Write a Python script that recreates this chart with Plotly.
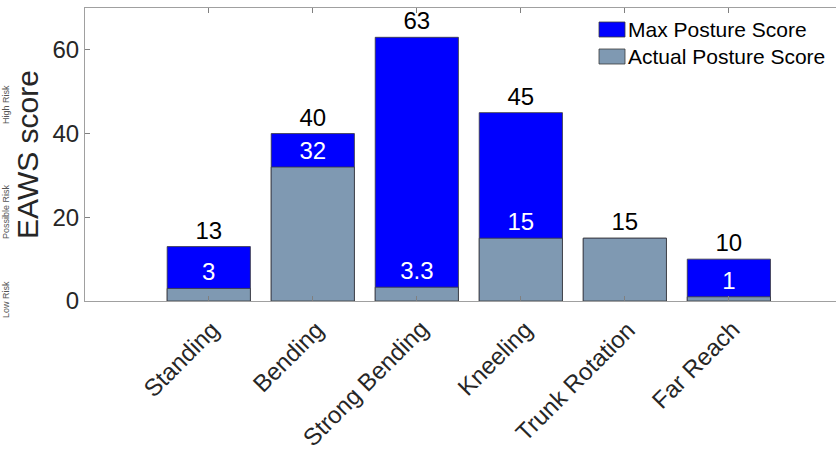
import plotly.graph_objects as go

# Posture categories and EAWS scores
categories = ["Standing", "Bending", "Strong Bending", "Kneeling", "Trunk Rotation", "Far Reach"]
max_scores = [13, 40, 63, 45, 15, 10]
actual_scores = [3, 32, 3.3, 15, 15, 1]
max_labels = ["13", "40", "63", "45", "15", "10"]
actual_labels = ["3", "32", "3.3", "15", "", "1"]
y_ticks = [0, 20, 40, 60]
risk_labels = ["High Risk", "Possible Risk", "Low Risk"]

FONT = "Liberation Sans, Arial, sans-serif"
BLUE = "#0000FF"
STEEL = "#7F99B2"
EDGE = "#3a3a3a"

positions = list(range(len(categories)))

fig = go.Figure()
fig.add_trace(go.Bar(
    x=positions, y=max_scores, width=0.8, name="Max Posture Score",
    marker=dict(color=BLUE, line=dict(color=EDGE, width=0.8)),
    text=max_labels, textposition="outside", textangle=0, cliponaxis=False,
    textfont=dict(family=FONT, size=24, color="black"),
    showlegend=False,
))
fig.add_trace(go.Bar(
    x=positions, y=actual_scores, width=0.8, name="Actual Posture Score",
    marker=dict(color=STEEL, line=dict(color=EDGE, width=0.8)),
    text=actual_labels, textposition="outside", textangle=0, cliponaxis=False,
    textfont=dict(family=FONT, size=24, color="white"),
    showlegend=False,
))

# plot area in pixels: x 85..836, y 8..301
L, R, T, B = 85, 836, 8, 301
W, H = R - L, B - T

def px(x):
    return (x - L) / W

def py(y):
    return (B - y) / H

shapes = []
annotations = []

# legend boxes and labels
legend_items = [("Max Posture Score", BLUE, 22, 37), ("Actual Posture Score", STEEL, 49, 64)]
for label, color, y0, y1 in legend_items:
    shapes.append(dict(type="rect", xref="paper", yref="paper",
                       x0=px(599), x1=px(625), y0=py(y1), y1=py(y0),
                       fillcolor=color, line=dict(color=EDGE, width=0.8)))
    annotations.append(dict(xref="paper", yref="paper", x=px(626), y=py((y0 + y1) / 2),
                            xanchor="left", yanchor="middle", showarrow=False,
                            text=label, font=dict(family=FONT, size=21, color="black")))

# category labels, slanted, ending just right of each tick
for i, cat in enumerate(categories):
    annotations.append(dict(xref="x", yref="paper", x=i, y=py(313),
                            xanchor="right", yanchor="top", xshift=19, showarrow=False,
                            textangle=-45, text=cat,
                            font=dict(family=FONT, size=24, color="#262626")))

# risk band labels at the far left
for label, yc in zip(risk_labels, [105, 212, 300]):
    annotations.append(dict(xref="paper", yref="paper", x=px(6), y=py(yc),
                            xanchor="center", yanchor="middle", showarrow=False,
                            textangle=-90, text=label,
                            font=dict(family=FONT, size=9, color="#555555")))

fig.update_layout(
    width=836, height=452,
    margin=dict(l=L, r=836 - R, t=T, b=452 - B, autoexpand=False),
    barmode="overlay",
    plot_bgcolor="white", paper_bgcolor="white",
    font=dict(family=FONT, color="#262626"),
    shapes=shapes, annotations=annotations,
    xaxis=dict(
        range=[-1.19, 6.03], tickmode="array", tickvals=positions, showticklabels=False,
        ticks="inside", ticklen=5, tickcolor="#808080",
        showline=True, linecolor="#A0A0A0", linewidth=1, mirror="ticks",
        showgrid=False, zeroline=False,
    ),
    yaxis=dict(
        range=[0, 70], tickmode="array", tickvals=y_ticks,
        tickfont=dict(family=FONT, size=24, color="#262626"),
        ticks="inside", ticklen=5, tickcolor="#808080",
        showline=True, linecolor="#A0A0A0", linewidth=1,
        showgrid=False, zeroline=False,
        title=dict(text="EAWS score", font=dict(family=FONT, size=30, color="#262626"), standoff=4),
    ),
)

fig.write_html("out.html")
